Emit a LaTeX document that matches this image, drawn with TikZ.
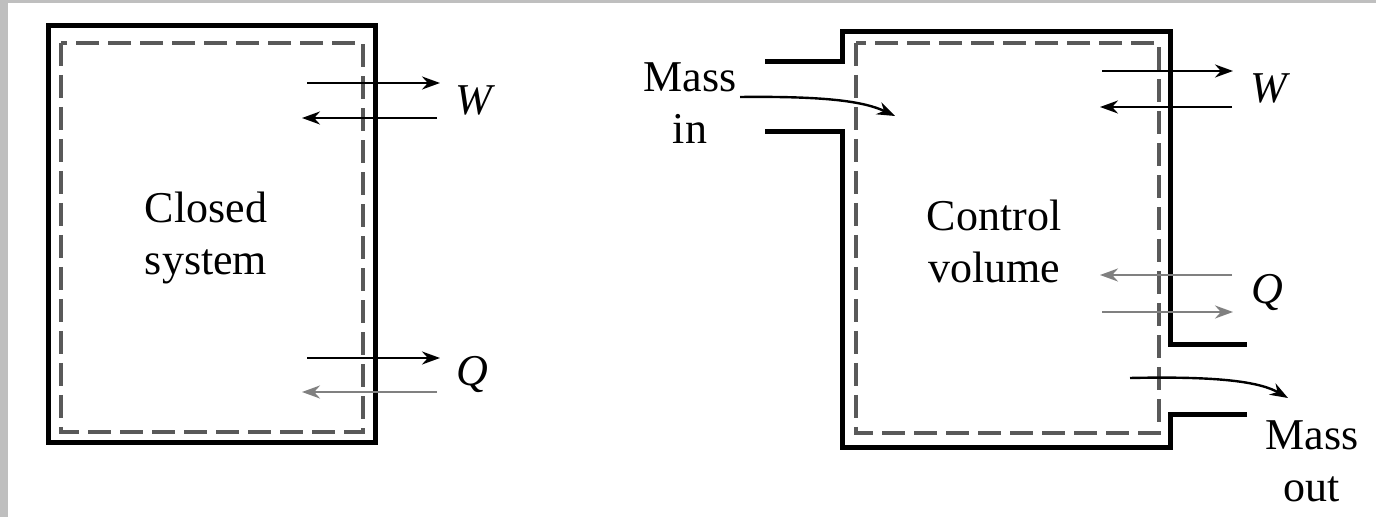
\documentclass[tikz,border=0pt]{standalone}
\usepackage{fontspec}
\setmainfont{Liberation Serif}
\usetikzlibrary{arrows.meta}
\begin{document}
\begin{tikzpicture}[x=0.5pt,y=-0.5pt,
  wall/.style={line width=2.5pt, line join=miter},
  bound/.style={line width=1.7pt, draw=black!65, dash pattern=on 11.5pt off 4.5pt},
  flow/.style={line width=1.2pt, -{Stealth[length=9pt,width=6.5pt]}},
  flowg/.style={flow, draw=black!50, fill=black!50},
  lbl/.style={font=\fontsize{22}{26}\selectfont, align=center, inner sep=0pt}]
\useasboundingbox (0,0) rectangle (1376,517);
\fill[white] (0,0) rectangle (1376,517);
\fill[black!25] (0,0) rectangle (8,517);
\fill[black!25] (0,0) rectangle (1376,3);
% closed system
\draw[wall] (48,26) rectangle (375,443);
\draw[bound] (61,43) rectangle (363,432);
\node[lbl] (closed) at (206,238) {Closed\\system};
\node[lbl] (wl) at (475,100) {\textit{W}};
\node[lbl] (ql) at (472,375) {\textit{Q}};
\coordinate (w1a) at (307,83);  \coordinate (w1b) at (440,83);
\coordinate (w2a) at (437,118); \coordinate (w2b) at (302,118);
\coordinate (q1a) at (307,358); \coordinate (q1b) at (440,358);
\coordinate (q2a) at (437,392); \coordinate (q2b) at (302,392);
\draw[flow] (w1a) -- (w1b);
\draw[flow] (w2a) -- (w2b);
\draw[flow] (q1a) -- (q1b);
\draw[flowg] (q2a) -- (q2b);
% control volume
\draw[wall] (765,62) -- (842,62) -- (842,32) -- (1170,32) -- (1170,345) -- (1247,345);
\draw[wall] (1247,415) -- (1170,415) -- (1170,448) -- (842,448) -- (842,132) -- (765,132);
\draw[bound] (856,43) rectangle (1159,433);
\node[lbl] (cv) at (994,241) {Control\\volume};
\node[lbl] (min) at (690,103) {Mass\\in};
\node[lbl] (mout) at (1312,461) {Mass\\out};
\node[lbl] (wr) at (1270,88) {\textit{W}};
\node[lbl] (qr) at (1267,293) {\textit{Q}};
\coordinate (rw1a) at (1102,71);  \coordinate (rw1b) at (1233,71);
\coordinate (rw2a) at (1232,107); \coordinate (rw2b) at (1100,107);
\coordinate (rq1a) at (1232,275); \coordinate (rq1b) at (1100,275);
\coordinate (rq2a) at (1102,312); \coordinate (rq2b) at (1233,312);
\draw[flow] (rw1a) -- (rw1b);
\draw[flow] (rw2a) -- (rw2b);
\draw[flowg] (rq1a) -- (rq1b);
\draw[flowg] (rq2a) -- (rq2b);
\coordinate (ina) at (740,97);  \coordinate (inb) at (895,116);
\coordinate (outa) at (1130,378); \coordinate (outb) at (1288,398);
\draw[flow] (ina) .. controls (830,96) and (865,102) .. (inb);
\draw[flow] (outa) .. controls (1220,376) and (1260,382) .. (outb);
\end{tikzpicture}
\end{document}
